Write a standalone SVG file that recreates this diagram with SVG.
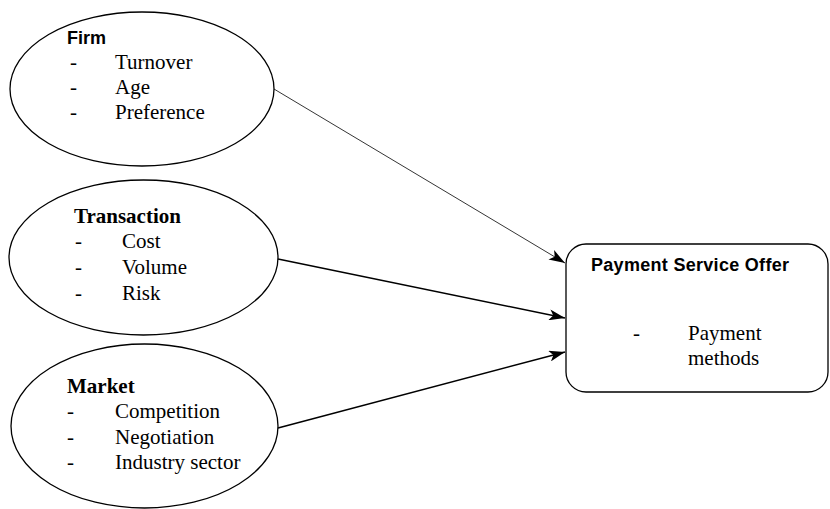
<svg xmlns="http://www.w3.org/2000/svg" width="830" height="509" viewBox="0 0 830 509">
<defs>
<style>
.shape{fill:#fff;stroke:#000;stroke-width:1.3}
.hd{font-family:"Liberation Sans",Arial,sans-serif;font-weight:bold;font-size:18px;fill:#000}
.hs{font-family:"Liberation Serif","Times New Roman",serif;font-weight:bold;font-size:21px;fill:#000}
.it{font-family:"Liberation Serif","Times New Roman",serif;font-size:21px;fill:#000}
.conn{fill:none;stroke:#000}
</style>
<marker id="arr" viewBox="0 0 16 11" refX="16" refY="5.5" markerWidth="16" markerHeight="11" markerUnits="userSpaceOnUse" orient="auto">
<path d="M0,0 L16,5.5 L0,11 L4,5.5 z" fill="#000"/>
</marker>
</defs>
<rect width="830" height="509" fill="#fff"/>
<g id="connectors">
<line class="conn" x1="274" y1="89" x2="565" y2="263" stroke-width="0.8" marker-end="url(#arr)"/>
<line class="conn" x1="278" y1="259" x2="565" y2="318" stroke-width="1.5" marker-end="url(#arr)"/>
<line class="conn" x1="278" y1="428" x2="565" y2="352" stroke-width="1.5" marker-end="url(#arr)"/>
</g>
<g id="firm">
<ellipse class="shape" cx="142" cy="89" rx="132" ry="77"/>
<text class="hd" x="67" y="44">Firm</text>
<text class="it" x="70" y="69">-</text><text class="it" x="115" y="69">Turnover</text>
<text class="it" x="70" y="94">-</text><text class="it" x="115" y="94">Age</text>
<text class="it" x="70" y="119">-</text><text class="it" x="115" y="119">Preference</text>
</g>
<g id="transaction">
<ellipse class="shape" cx="143.5" cy="257.5" rx="134.5" ry="77.5"/>
<text class="hs" x="74" y="223">Transaction</text>
<text class="it" x="75" y="248">-</text><text class="it" x="122" y="248">Cost</text>
<text class="it" x="75" y="274">-</text><text class="it" x="122" y="274">Volume</text>
<text class="it" x="75" y="300">-</text><text class="it" x="122" y="300">Risk</text>
</g>
<g id="market">
<ellipse class="shape" cx="144.5" cy="426" rx="133.5" ry="82"/>
<text class="hs" x="67" y="393">Market</text>
<text class="it" x="67" y="418">-</text><text class="it" x="115" y="418">Competition</text>
<text class="it" x="67" y="444">-</text><text class="it" x="115" y="444">Negotiation</text>
<text class="it" x="67" y="469">-</text><text class="it" x="115" y="469">Industry sector</text>
</g>
<g id="payment-service-offer">
<rect class="shape" x="566" y="244" width="262" height="148" rx="20" ry="20"/>
<text class="hd" x="591" y="271" textLength="198">Payment Service Offer</text>
<text class="it" x="633" y="340">-</text>
<text class="it" x="688" y="340">Payment</text>
<text class="it" x="688" y="365">methods</text>
</g>
</svg>
